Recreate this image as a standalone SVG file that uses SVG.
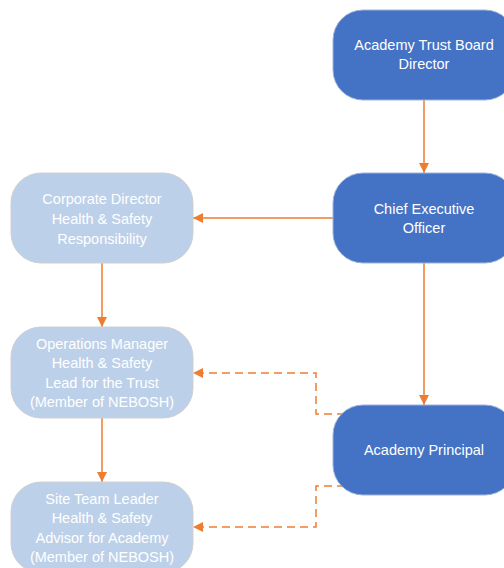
<svg xmlns="http://www.w3.org/2000/svg" width="504" height="568" viewBox="0 0 504 568">
<defs>
<marker id="ah" viewBox="0 0 10 10" refX="10" refY="5" markerWidth="10" markerHeight="10" markerUnits="userSpaceOnUse" orient="auto">
<path d="M0,0 L10,5 L0,10 z" fill="#ED7D31"/>
</marker>
<style>
.dark{fill:#4472C4;stroke:#9fb3d9;stroke-width:1}
.light{fill:#BDD0E9;stroke:#cfcfcf;stroke-width:1}
text{font-family:"Liberation Sans",Arial,sans-serif;font-size:14.5px;fill:#fff;text-anchor:middle}
.c{fill:none;stroke:#ED7D31;stroke-width:1.5;marker-end:url(#ah)}
.d{stroke-dasharray:8,5}
</style>
</defs>
<rect width="504" height="568" fill="#fff"/>
<g id="connectors">
<path class="c" d="M424,100 V173"/>
<path class="c" d="M333,218 H193"/>
<path class="c" d="M102,263 V327"/>
<path class="c" d="M102,418 V482"/>
<path class="c" d="M424,263 V405"/>
<path class="c d" d="M345,414 H316 V373 H193"/>
<path class="c d" d="M345,486 H316 V527 H193"/>
</g>
<g id="board">
<rect class="dark" x="333" y="10" width="182" height="90" rx="30"/>
<text x="424" y="50">Academy Trust Board</text>
<text x="424" y="69">Director</text>
</g>
<g id="ceo">
<rect class="dark" x="333" y="173" width="182" height="90" rx="30"/>
<text x="424" y="214">Chief Executive</text>
<text x="424" y="233">Officer</text>
</g>
<g id="principal">
<rect class="dark" x="333" y="405" width="182" height="90" rx="30"/>
<text x="424" y="455">Academy Principal</text>
</g>
<g id="corporate">
<rect class="light" x="11" y="173" width="182" height="90" rx="30"/>
<text x="102" y="204">Corporate Director</text>
<text x="102" y="224">Health &amp; Safety</text>
<text x="102" y="244">Responsibility</text>
</g>
<g id="operations">
<rect class="light" x="11" y="327" width="182" height="91" rx="30"/>
<text x="102" y="349">Operations Manager</text>
<text x="102" y="368">Health &amp; Safety</text>
<text x="102" y="388">Lead for the Trust</text>
<text x="102" y="407">(Member of NEBOSH)</text>
</g>
<g id="site">
<rect class="light" x="11" y="482" width="182" height="91" rx="30"/>
<text x="102" y="504">Site Team Leader</text>
<text x="102" y="523">Health &amp; Safety</text>
<text x="102" y="543">Advisor for Academy</text>
<text x="102" y="562">(Member of NEBOSH)</text>
</g>
</svg>
